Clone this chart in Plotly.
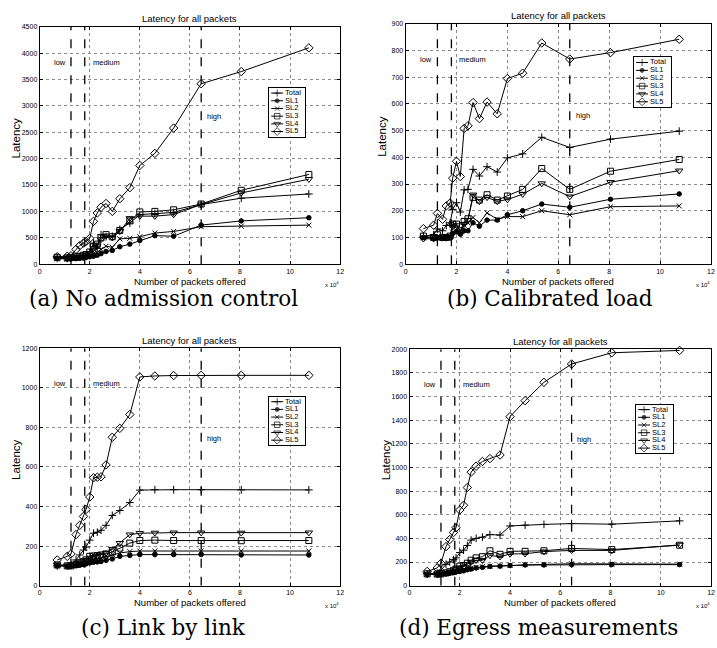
import plotly.graph_objects as go

# ---------------- data (x in units of 10^4 packets) ----------------
x_offered = [0.7, 1.1, 1.25, 1.45, 1.6, 1.75, 1.85, 2.0, 2.15, 2.3, 2.45, 2.65,
             2.9, 3.2, 3.6, 4.0, 4.6, 5.35, 6.45, 8.05, 10.75]
series_names = ["Total", "SL1", "SL2", "SL3", "SL4", "SL5"]
load_bounds = [1.25, 1.8, 6.45]
region_labels = ["low", "medium", "high"]
x_ticks = [0, 2, 4, 6, 8, 10, 12]

# (a) No admission control
a_total = [110, 110, 115, 130, 140, 160, 170, 220, 400, 300, 560, 520, 530, 660, 780, 940, 960, 980, 1130, 1250, 1330]
a_sl1 = [110, 100, 100, 105, 110, 115, 125, 140, 150, 170, 200, 240, 260, 330, 380, 450, 540, 530, 740, 820, 880]
a_sl2 = [100, 100, 105, 110, 120, 130, 150, 180, 200, 220, 280, 340, 320, 480, 490, 520, 590, 620, 710, 720, 740]
a_sl3 = [130, 120, 130, 140, 150, 170, 180, 230, 330, 380, 500, 560, 520, 640, 820, 990, 1000, 1030, 1140, 1400, 1700]
a_sl4 = [120, 115, 120, 130, 140, 160, 170, 210, 300, 350, 470, 540, 500, 620, 870, 910, 910, 940, 1130, 1350, 1610]
a_sl5 = [140, 150, 160, 280, 350, 400, 430, 490, 810, 970, 1080, 1150, 1000, 1240, 1450, 1870, 2100, 2580, 3420, 3650, 4100]

# (b) Calibrated load
b_total = [105, 110, 132, 125, 145, 155, 205, 230, 195, 278, 280, 355, 330, 365, 345, 398, 413, 475, 437, 468, 498]
b_sl1 = [100, 98, 98, 100, 100, 100, 115, 122, 112, 125, 125, 155, 142, 165, 165, 185, 200, 225, 213, 243, 263]
b_sl2 = [98, 100, 100, 100, 102, 105, 120, 125, 120, 145, 155, 175, 155, 192, 168, 178, 178, 200, 185, 215, 218]
b_sl3 = [105, 100, 110, 100, 100, 105, 150, 150, 125, 160, 170, 250, 240, 260, 240, 255, 280, 358, 280, 348, 392]
b_sl4 = [95, 95, 100, 98, 98, 100, 140, 145, 120, 150, 165, 260, 235, 250, 235, 242, 262, 302, 253, 307, 350]
b_sl5 = [133, 146, 190, 168, 218, 229, 322, 385, 328, 508, 518, 605, 545, 607, 563, 695, 715, 828, 768, 792, 842]

# (c) Link by link
c_total = [100, 100, 105, 130, 155, 180, 195, 230, 265, 270, 280, 305, 355, 380, 420, 483, 485, 485, 485, 484, 484]
c_sl1 = [100, 98, 98, 100, 103, 106, 110, 115, 118, 120, 122, 128, 135, 148, 153, 157, 157, 157, 157, 155, 155]
c_sl2 = [100, 100, 100, 103, 108, 112, 118, 125, 130, 135, 140, 150, 158, 165, 172, 175, 175, 175, 175, 175, 175]
c_sl3 = [105, 100, 100, 108, 115, 122, 130, 148, 150, 152, 155, 160, 170, 190, 215, 228, 230, 228, 228, 227, 228]
c_sl4 = [105, 100, 100, 108, 115, 122, 130, 140, 145, 150, 155, 165, 185, 215, 258, 265, 267, 268, 268, 267, 268]
c_sl5 = [130, 148, 160, 258, 305, 350, 385, 448, 545, 548, 550, 610, 750, 795, 865, 1055, 1060, 1062, 1063, 1063, 1063]

# (d) Egress measurements
d_total = [100, 105, 130, 180, 200, 220, 235, 280, 300, 340, 385, 400, 410, 432, 428, 505, 512, 518, 525, 520, 548]
d_sl1 = [95, 95, 95, 100, 105, 110, 115, 120, 125, 135, 140, 150, 155, 162, 165, 170, 175, 175, 178, 178, 178]
d_sl2 = [100, 98, 98, 103, 108, 113, 120, 130, 135, 142, 148, 155, 160, 165, 168, 172, 178, 180, 185, 182, 182]
d_sl3 = [100, 98, 100, 108, 118, 130, 140, 165, 170, 190, 215, 235, 245, 295, 265, 290, 290, 295, 315, 305, 342]
d_sl4 = [95, 95, 98, 105, 113, 125, 135, 150, 160, 180, 200, 215, 215, 255, 245, 268, 270, 288, 298, 298, 345]
d_sl5 = [120, 150, 190, 330, 390, 450, 490, 640, 680, 830, 960, 1010, 1050, 1075, 1105, 1430, 1565, 1720, 1875, 1970, 1990]

panels = [
    dict(series=[a_total, a_sl1, a_sl2, a_sl3, a_sl4, a_sl5], ymax=4500, ydtick=500,
         caption="(a) No admission control"),
    dict(series=[b_total, b_sl1, b_sl2, b_sl3, b_sl4, b_sl5], ymax=900, ydtick=100,
         caption="(b) Calibrated load"),
    dict(series=[c_total, c_sl1, c_sl2, c_sl3, c_sl4, c_sl5], ymax=1200, ydtick=200,
         caption="(c) Link by link"),
    dict(series=[d_total, d_sl1, d_sl2, d_sl3, d_sl4, d_sl5], ymax=2000, ydtick=200,
         caption="(d) Egress measurements"),
]

# ---------------- layout geometry (pixels) ----------------
W, H = 717, 648
boxes = [(38, 341, 23, 263), (407, 715, 20, 263), (38, 341, 348, 588), (411, 715, 349, 588)]
leg_boxes = [(269, 306, 85, 134), (637, 675, 54, 104), (269, 306, 397, 446), (639, 677, 405, 454)]
caption_pos = [(163, 298), (553, 298), (163, 630), (541, 630)]

symbols = ["cross-thin-open", "circle", "x-thin-open", "square-open", "triangle-down-open", "diamond-open"]
msizes = [5.5, 4.5, 5, 6, 6.5, 6.5]

SANS = "Liberation Sans, Arial, sans-serif"


def px(xp):
    return xp / W


def py(yp):
    return 1 - yp / H


fig = go.Figure()
layout = dict(width=W, height=H, margin=dict(l=0, r=0, t=0, b=0),
              paper_bgcolor="white", plot_bgcolor="white", showlegend=False,
              font=dict(family=SANS, color="black"))
annotations = []
shapes = []

for k, p in enumerate(panels):
    n = k + 1
    xa = "xaxis" if n == 1 else f"xaxis{n}"
    ya = "yaxis" if n == 1 else f"yaxis{n}"
    xr = "x" if n == 1 else f"x{n}"
    yr = "y" if n == 1 else f"y{n}"
    l, r, t, b = boxes[k]
    common = dict(showline=True, mirror="ticks", linecolor="black", linewidth=1,
                  showgrid=True, gridcolor="#8c8c8c", griddash="dot", gridwidth=1,
                  zeroline=False, ticks="inside", ticklen=3, tickcolor="black",
                  tickfont=dict(size=7, family=SANS))
    layout[xa] = dict(domain=[px(l), px(r)], range=[0, 12], tickvals=x_ticks,
                      anchor=yr, **common)
    layout[ya] = dict(domain=[py(b), py(t)], range=[0, p["ymax"]], dtick=p["ydtick"],
                      anchor=xr, **common)

    for i, (name, ys) in enumerate(zip(series_names, p["series"])):
        fig.add_trace(go.Scatter(
            x=x_offered, y=ys, name=name, xaxis=xr, yaxis=yr, mode="lines+markers",
            line=dict(color="black", width=1),
            marker=dict(symbol=symbols[i], size=msizes[i], color="black",
                        line=dict(color="black", width=1)),
            cliponaxis=False))

    for xb in load_bounds:
        shapes.append(dict(type="line", xref=xr, yref=yr, x0=xb, x1=xb,
                           y0=0, y1=p["ymax"], line=dict(color="black", width=1.3, dash="dash")))
    for lbl, lx, ly in zip(region_labels, [0.48, 2.03, 6.6], [0.85, 0.85, 0.62]):
        annotations.append(dict(text=lbl, xref=xr, yref=yr, x=lx, y=ly * p["ymax"],
                                xanchor="left", yanchor="middle", showarrow=False,
                                font=dict(size=7.5, color="black", family=SANS)))
    cx = px((l + r) / 2)
    annotations.append(dict(text="Latency for all packets", xref="paper", yref="paper",
                            x=cx, y=py(t - 8), xanchor="center", yanchor="middle",
                            showarrow=False, font=dict(size=9.5, family=SANS)))
    annotations.append(dict(text="Number of packets offered", xref="paper", yref="paper",
                            x=cx, y=py(b + 17.5), xanchor="center", yanchor="middle",
                            showarrow=False, font=dict(size=9.5, family=SANS)))
    annotations.append(dict(text="x 10<sup>4</sup>", xref="paper", yref="paper",
                            x=px(r + 1), y=py(b + 20), xanchor="right", yanchor="middle",
                            showarrow=False, font=dict(size=6, family=SANS)))
    annotations.append(dict(text="Latency", xref="paper", yref="paper",
                            x=px(l - 24), y=py((t + b) / 2 - 8), xanchor="center",
                            yanchor="middle", textangle=-90, showarrow=False,
                            font=dict(size=11.5, family=SANS)))
    cxp, cyp = caption_pos[k]
    annotations.append(dict(text=p["caption"], xref="paper", yref="paper",
                            x=px(cxp), y=py(cyp), xanchor="center", yanchor="middle",
                            showarrow=False,
                            font=dict(size=21.5, family="DejaVu Serif, serif")))

    # ---- legend box as a small subplot ----
    m = n + 4
    lxa, lya = f"xaxis{m}", f"yaxis{m}"
    lxr, lyr = f"x{m}", f"y{m}"
    ll, lr_, lt, lb = leg_boxes[k]
    bw = lr_ - ll
    layout[lxa] = dict(domain=[px(ll), px(lr_)], range=[0, bw], anchor=lyr,
                       showline=True, mirror=True, linecolor="black", linewidth=1.2,
                       showgrid=False, zeroline=False, showticklabels=False, ticks="",
                       fixedrange=True)
    layout[lya] = dict(domain=[py(lb), py(lt)], range=[5.65, -0.65], anchor=lxr,
                       showline=True, mirror=True, linecolor="black", linewidth=1.2,
                       showgrid=False, zeroline=False, showticklabels=False, ticks="",
                       fixedrange=True)
    shapes.append(dict(type="rect", xref=lxr, yref=lyr,
                       x0=0, x1=bw, y0=-0.65, y1=5.65, fillcolor="white", line=dict(width=0),
                       layer="below"))
    for i, name in enumerate(series_names):
        fig.add_trace(go.Scatter(
            x=[2.5, 8.5, 14.5], y=[i, i, i], xaxis=lxr, yaxis=lyr, mode="lines+markers",
            line=dict(color="black", width=1),
            marker=dict(symbol=symbols[i], size=[0, msizes[i] - 0.5, 0], color="black",
                        line=dict(color="black", width=1)),
            hoverinfo="skip"))
    fig.add_trace(go.Scatter(
        x=[16.5] * len(series_names), y=list(range(len(series_names))),
        text=series_names, mode="text", textposition="middle right",
        textfont=dict(size=7.5, family=SANS), xaxis=lxr, yaxis=lyr,
        hoverinfo="skip", cliponaxis=False))

layout["annotations"] = annotations
layout["shapes"] = shapes
fig.update_layout(**layout)
fig.write_html("out.html")
